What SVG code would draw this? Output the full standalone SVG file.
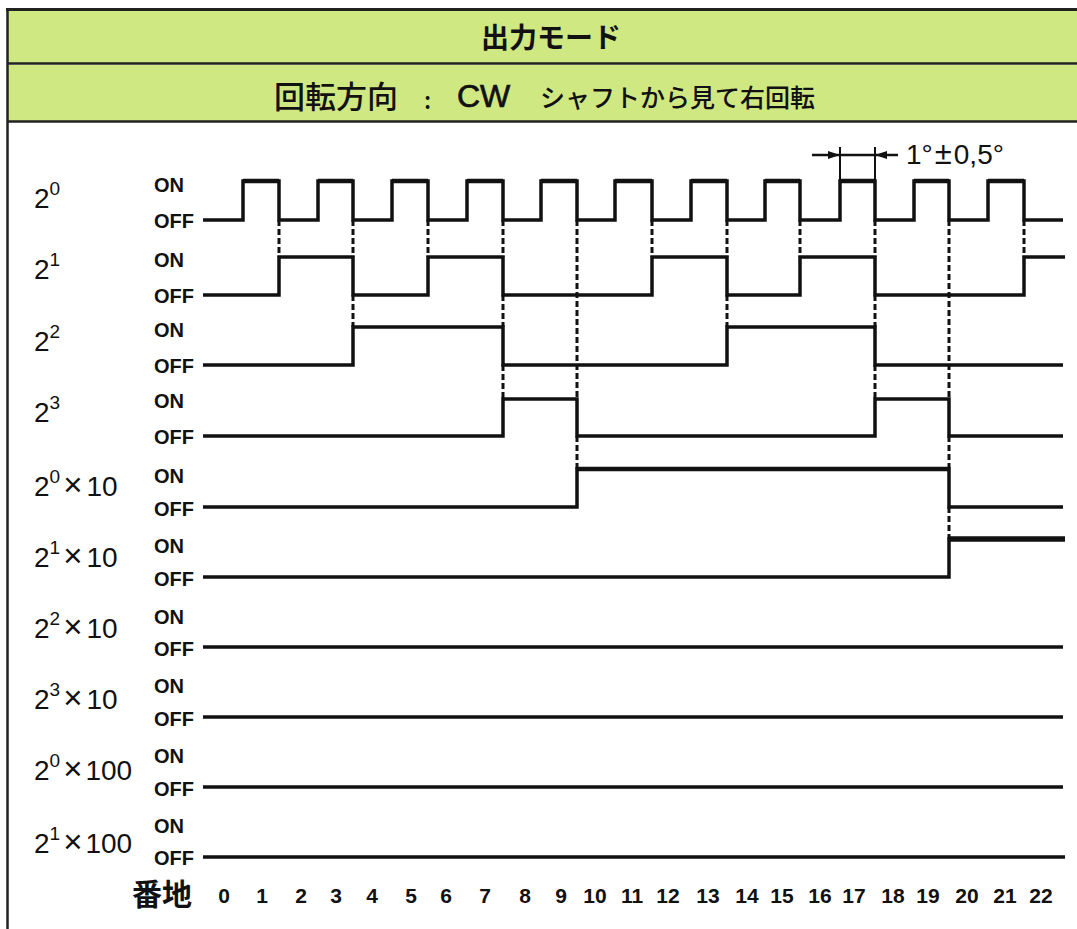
<svg xmlns="http://www.w3.org/2000/svg" width="1077" height="929" viewBox="0 0 1077 929">
<defs>
<marker id="ah" viewBox="0 0 12 8" refX="12" refY="4" markerWidth="12" markerHeight="8" markerUnits="userSpaceOnUse" orient="auto"><path d="M0,0 L12,4 L0,8 z" fill="#111"/></marker>
</defs>
<style>
.jp{font-family:"Noto Sans CJK JP","Noto Sans CJK SC",sans-serif;font-weight:500;fill:#111}
.jpb{font-family:"Noto Sans CJK JP","Noto Sans CJK SC",sans-serif;font-weight:bold;fill:#111}
.lbl{font-family:"Liberation Sans",Arial,sans-serif;font-size:28px;fill:#111}
.sup{font-size:19px}
.x{font-size:33px}
.st{font-family:"Liberation Sans",Arial,sans-serif;font-size:20px;font-weight:bold;fill:#111}
.ax{font-family:"Liberation Sans",Arial,sans-serif;font-size:21px;font-weight:bold;fill:#111;text-anchor:middle}
.sig{fill:none;stroke:#111;stroke-width:3.5;stroke-linejoin:miter;stroke-linecap:butt}
.dash{stroke:#111;stroke-width:3;stroke-dasharray:6 3;fill:none}
.band{fill:#d0e882}
.rule{stroke:#222;fill:none}
</style>
<rect x="0" y="0" width="1077" height="929" fill="#fff"/>

<g id="frame">
<rect class="band" x="8" y="11" width="1069" height="52"/>
<rect class="band" x="8" y="65" width="1069" height="56"/>
<line class="rule" x1="6" y1="9.5" x2="1077" y2="9.5" stroke-width="3"/>
<line class="rule" x1="7" y1="63.5" x2="1077" y2="63.5" stroke-width="2.5"/>
<line class="rule" x1="7" y1="121.5" x2="1077" y2="121.5" stroke-width="2.5"/>
<line class="rule" x1="7.5" y1="8" x2="7.5" y2="929" stroke-width="2.5"/>
</g>

<g id="title">
<text class="jpb" x="551" y="48" font-size="28" text-anchor="middle">出力モード</text>
</g>
<g id="subtitle">
<text class="jp" x="274" y="108" font-size="31">回転方向</text>
<text class="jp" x="424" y="109" font-size="24">:</text>
<text x="457" y="107" font-family="Liberation Sans,Arial,sans-serif" font-size="32" fill="#111" stroke="#111" stroke-width="0.7">CW</text>
<text class="jp" x="540" y="107" font-size="25">シャフトから見て右回転</text>
</g>

<g id="row-2-0">
<text class="lbl" x="34" y="208">2<tspan class="sup" dy="-13">0</tspan></text>
<text class="st" x="154" y="192">ON</text>
<text class="st" x="154" y="228">OFF</text>
<path class="sig" d="M203,220 H243 V181 H279 V220 H318 V181 H353 V220 H392 V181 H428 V220 H467 V181 H503 V220 H541 V181 H577 V220 H615 V181 H652 V220 H691 V181 H727 V220 H765 V181 H800 V220 H840 V181 H875 V220 H914 V181 H949 V220 H988 V181 H1024 V220 H1063"/>
<path fill="none" stroke="#111" stroke-width="4.5" d="M243,181 H279 M318,181 H353 M392,181 H428 M467,181 H503 M541,181 H577 M615,181 H652 M691,181 H727 M765,181 H800 M840,181 H875 M914,181 H949 M988,181 H1024"/>
</g>
<g id="row-2-1">
<text class="lbl" x="34" y="279">2<tspan class="sup" dy="-13">1</tspan></text>
<text class="st" x="154" y="267">ON</text>
<text class="st" x="154" y="303">OFF</text>
<path class="sig" d="M203,295 H279 V257 H353 V295 H428 V257 H503 V295 H652 V257 H727 V295 H800 V257 H875 V295 H1024 V257 H1065"/>
</g>
<g id="row-2-2">
<text class="lbl" x="34" y="351">2<tspan class="sup" dy="-13">2</tspan></text>
<text class="st" x="154" y="337">ON</text>
<text class="st" x="154" y="373">OFF</text>
<path class="sig" d="M203,365 H353 V327 H503 V365 H727 V327 H875 V365 H1063"/>
</g>
<g id="row-2-3">
<text class="lbl" x="34" y="422">2<tspan class="sup" dy="-13">3</tspan></text>
<text class="st" x="154" y="408">ON</text>
<text class="st" x="154" y="444">OFF</text>
<path class="sig" d="M203,436 H503 V399 H577 V436 H875 V399 H949 V436 H1063"/>
</g>
<g id="row-2-0x10">
<text class="lbl" x="34" y="496">2<tspan class="sup" dy="-13">0</tspan><tspan class="x" dy="13" dx="3">×</tspan><tspan dx="4">10</tspan></text>
<text class="st" x="154" y="483">ON</text>
<text class="st" x="154" y="516">OFF</text>
<path class="sig" d="M203,507 H577 V469 H949 V507 H1063"/>
<line x1="577" y1="469" x2="949" y2="469" stroke="#111" stroke-width="4.5"/>
</g>
<g id="row-2-1x10">
<text class="lbl" x="34" y="567">2<tspan class="sup" dy="-13">1</tspan><tspan class="x" dy="13" dx="3">×</tspan><tspan dx="4">10</tspan></text>
<text class="st" x="154" y="553">ON</text>
<text class="st" x="154" y="586">OFF</text>
<path class="sig" d="M203,577 H949 V539 H1065"/>
<line x1="949" y1="539" x2="1065" y2="539" stroke="#111" stroke-width="5.5"/>
</g>
<g id="row-2-2x10">
<text class="lbl" x="34" y="638">2<tspan class="sup" dy="-13">2</tspan><tspan class="x" dy="13" dx="3">×</tspan><tspan dx="4">10</tspan></text>
<text class="st" x="154" y="624">ON</text>
<text class="st" x="154" y="656">OFF</text>
<path class="sig" d="M203,647 H1063"/>
</g>
<g id="row-2-3x10">
<text class="lbl" x="34" y="709">2<tspan class="sup" dy="-13">3</tspan><tspan class="x" dy="13" dx="3">×</tspan><tspan dx="4">10</tspan></text>
<text class="st" x="154" y="693">ON</text>
<text class="st" x="154" y="726">OFF</text>
<path class="sig" d="M203,717 H1063"/>
</g>
<g id="row-2-0x100">
<text class="lbl" x="34" y="780">2<tspan class="sup" dy="-13">0</tspan><tspan class="x" dy="13" dx="3">×</tspan><tspan dx="3">100</tspan></text>
<text class="st" x="154" y="763">ON</text>
<text class="st" x="154" y="796">OFF</text>
<path class="sig" stroke-width="4" d="M203,787 H1063"/>
</g>
<g id="row-2-1x100">
<text class="lbl" x="34" y="853">2<tspan class="sup" dy="-13">1</tspan><tspan class="x" dy="13" dx="3">×</tspan><tspan dx="3">100</tspan></text>
<text class="st" x="154" y="833">ON</text>
<text class="st" x="154" y="865">OFF</text>
<path class="sig" stroke-width="5.5" d="M203,857 H1065"/>
</g>

<g id="address-axis">
<text class="jpb" x="132" y="905" font-size="30">番地</text>
<text class="ax" x="224" y="903">0</text>
<text class="ax" x="262" y="903">1</text>
<text class="ax" x="301" y="903">2</text>
<text class="ax" x="336" y="903">3</text>
<text class="ax" x="372" y="903">4</text>
<text class="ax" x="411" y="903">5</text>
<text class="ax" x="446" y="903">6</text>
<text class="ax" x="485" y="903">7</text>
<text class="ax" x="525" y="903">8</text>
<text class="ax" x="561" y="903">9</text>
<text class="ax" x="595" y="903">10</text>
<text class="ax" x="632" y="903">11</text>
<text class="ax" x="668" y="903">12</text>
<text class="ax" x="708" y="903">13</text>
<text class="ax" x="747" y="903">14</text>
<text class="ax" x="782" y="903">15</text>
<text class="ax" x="820" y="903">16</text>
<text class="ax" x="854" y="903">17</text>
<text class="ax" x="893" y="903">18</text>
<text class="ax" x="928" y="903">19</text>
<text class="ax" x="967" y="903">20</text>
<text class="ax" x="1005" y="903">21</text>
<text class="ax" x="1041" y="903">22</text>
</g>

<g id="annotation">
<line x1="840" y1="147" x2="840" y2="181" stroke="#111" stroke-width="2"/>
<line x1="875" y1="147" x2="875" y2="181" stroke="#111" stroke-width="2"/>
<line x1="812" y1="155" x2="840" y2="155" stroke="#111" stroke-width="2.5" marker-end="url(#ah)"/>
<line x1="840" y1="155" x2="875" y2="155" stroke="#111" stroke-width="2.5"/>
<line x1="898" y1="155" x2="875" y2="155" stroke="#111" stroke-width="2.5" marker-end="url(#ah)"/>
<text x="906" y="164" font-family="Liberation Sans,Arial,sans-serif" font-size="28" fill="#111">1°<tspan dx="2" font-size="31">±</tspan><tspan dx="2">0,5°</tspan></text>
</g>

<g id="connectors">
<path class="dash" d="M279,220 V257 M353,220 V257 M353,295 V327 M428,220 V257 M503,220 V257 M503,295 V327 M503,365 V399 M577,220 V399 M577,436 V469 M652,220 V257 M727,220 V257 M727,295 V327 M800,220 V257 M875,220 V257 M875,295 V327 M875,365 V399 M949,220 V399 M949,436 V469 M949,507 V539 M1024,220 V257"/>
</g>
</svg>
